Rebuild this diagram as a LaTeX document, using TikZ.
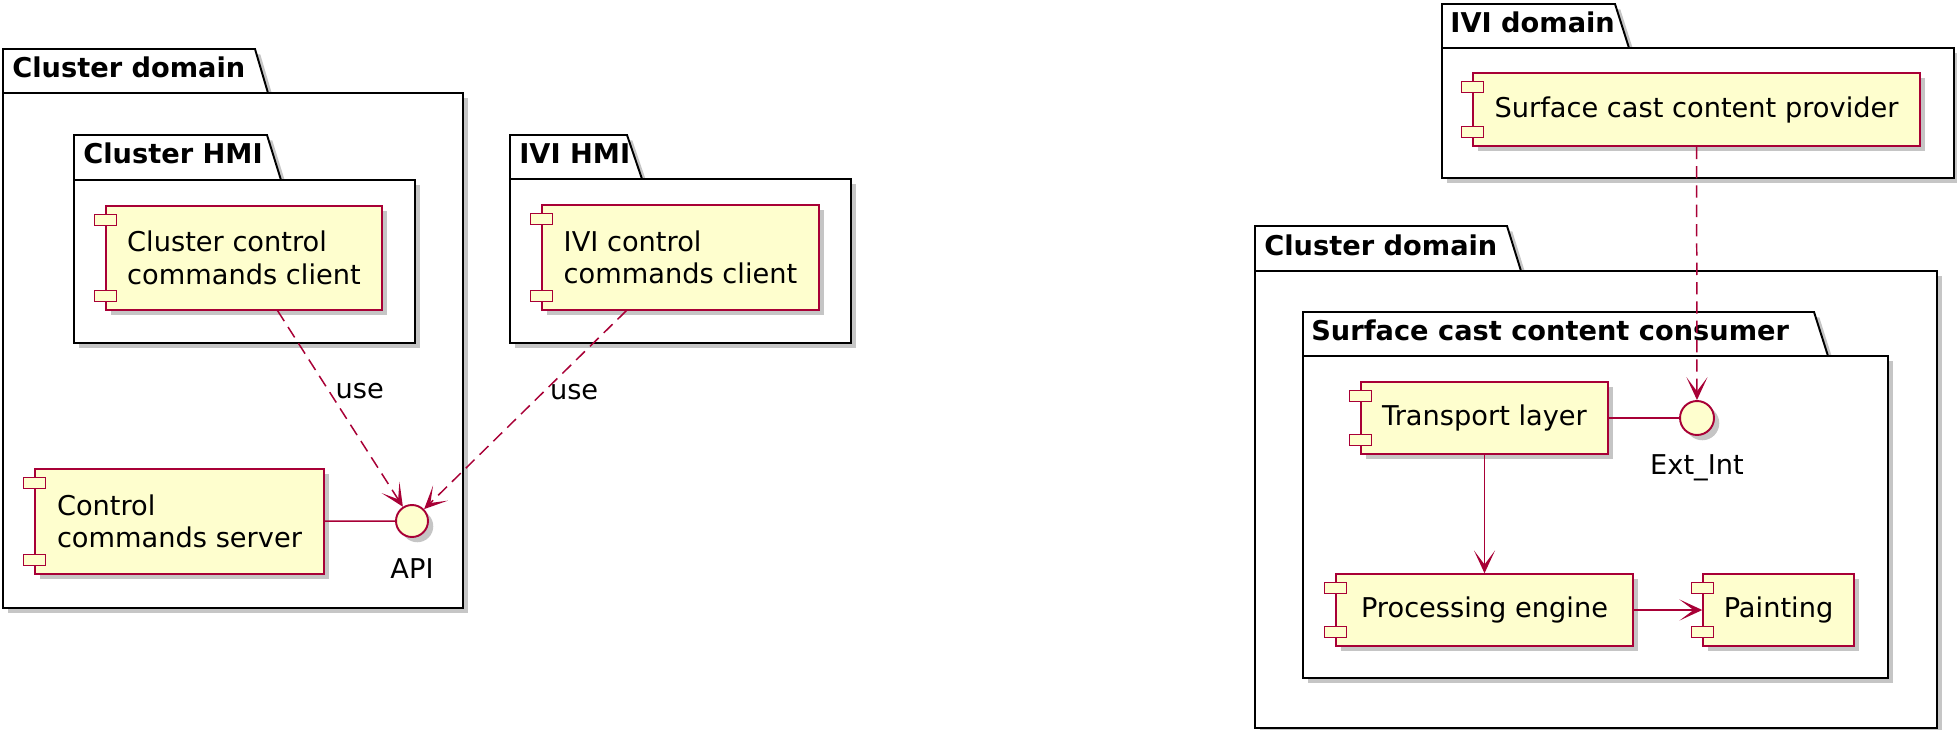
\documentclass[tikz,border=0pt]{standalone}
\usepackage{fontspec}
\setmainfont{DejaVu Sans}
\usetikzlibrary{arrows.meta,fit,shadows,calc}
\definecolor{umlfill}{HTML}{FEFECE}
\definecolor{umlred}{HTML}{A80036}

\begin{document}
\begin{tikzpicture}[x=0.02cm,y=-0.02cm,
    every node/.style={font=\fontsize{15.5}{18.5}\selectfont},
    umlshadow/.style={drop shadow={shadow xshift=3pt,shadow yshift=-3pt,opacity=.45}},
    pkg/.style={draw=black,line width=1.1pt,fill=white,inner sep=0pt,umlshadow},
    ttl/.style={anchor=base west,inner sep=0pt,font=\fontsize{15.5}{18.5}\selectfont\bfseries},
    comp/.style={draw=umlred,line width=.85pt,fill=umlfill,inner sep=0pt,align=left,umlshadow},
    port/.style={draw=umlred,line width=.85pt,fill=umlfill},
    iface/.style={circle,draw=umlred,line width=1.1pt,fill=umlfill,inner sep=0pt,%
      minimum size=0.64cm,umlshadow},
    link/.style={draw=umlred,line width=.85pt},
    dep/.style={link,dash pattern=on 7pt off 4pt},
    >={Stealth[length=13pt,width=12pt,inset=8pt]}]
  \useasboundingbox (0,0) rectangle (1957,730) ;
  % left: cluster domain and IVI HMI
  \filldraw[pkg] (3,93) |- (255,49) -- (268,93) -- cycle ;
  \node[pkg,fit={(3,93) (463,608)}] (cdl) {} ;
  \node[ttl] (cdlt) at (12,77) {Cluster domain} ;
  \filldraw[pkg] (74,180) |- (267,135) -- (281,180) -- cycle ;
  \node[pkg,fit={(74,180) (415,343)}] (chmi) {} ;
  \node[ttl] (chmit) at (83,163) {Cluster HMI} ;
  \filldraw[pkg] (510,179) |- (627,135) -- (642,179) -- cycle ;
  \node[pkg,fit={(510,179) (851,343)}] (ihmi) {} ;
  \node[ttl] (ihmit) at (519,163) {IVI HMI} ;
  \node[comp,minimum width=5.52cm,minimum height=2.08cm] %
    (ccc) at (244,258) {Cluster control\\commands client} ;
  \node[comp,minimum width=5.78cm,minimum height=2.1cm] %
    (srv) at (179.5,521.5) {Control\\commands server} ;
  \node[comp,minimum width=5.54cm,minimum height=2.1cm] %
    (ivc) at (680.5,257.5) {IVI control\\commands client} ;
  \node[iface,label={[label distance=8pt]270:API}] (api) at (412,521) {} ;
  % right: IVI domain and cluster domain
  \filldraw[pkg] (1442,48) |- (1615,4) -- (1629,48) -- cycle ;
  \node[pkg,fit={(1442,48) (1954,178)}] (ivid) {} ;
  \node[ttl] (ividt) at (1450,32) {IVI domain} ;
  \filldraw[pkg] (1255,271) |- (1507,226) -- (1521,271) -- cycle ;
  \node[pkg,fit={(1255,271) (1937,728)}] (cdr) {} ;
  \node[ttl] (cdrt) at (1264,255) {Cluster domain} ;
  \filldraw[pkg] (1303,356) |- (1814,312) -- (1828,356) -- cycle ;
  \node[pkg,fit={(1303,356) (1888,678)}] (scc) {} ;
  \node[ttl] (scct) at (1311,340) {Surface cast content consumer} ;
  \node[comp,minimum width=8.94cm,minimum height=1.46cm] %
    (scp) at (1696.5,109.5) {Surface cast content provider} ;
  \node[comp,minimum width=4.94cm,minimum height=1.44cm] %
    (tpl) at (1484.5,418) {Transport layer} ;
  \node[comp,minimum width=5.94cm,minimum height=1.44cm] %
    (peng) at (1484.5,610) {Processing engine} ;
  \node[comp,minimum width=3.02cm,minimum height=1.44cm] %
    (pnt) at (1778.5,610) {Painting} ;
  \node[iface,minimum size=0.68cm,label={[label distance=7pt]270:Ext\_Int}] %
    (ext) at (1697,418) {} ;
  % component ports
  \foreach \c in {ccc,srv,ivc,scp,tpl,peng,pnt} {
    \filldraw[port] ($(\c.north west)+(-11,9)$) rectangle ++(22,11) ;
    \filldraw[port] ($(\c.south west)+(-11,-20)$) rectangle ++(22,11) ;
  }
  % connectors
  \draw[dep,->] (ccc) -- node[pos=.41,anchor=west] (use1) {use} (api) ;
  \draw[dep,->] (ivc) -- node[pos=.41,anchor=west] (use2) {use} (api) ;
  \draw[link] (srv) -- (api) ;
  \draw[dep,->] (scp) -- (ext) ;
  \draw[link] (tpl) -- (ext) ;
  \draw[link,->] (tpl) -- (peng) ;
  \draw[link,->] (peng) -- (pnt) ;
\end{tikzpicture}
\end{document}
